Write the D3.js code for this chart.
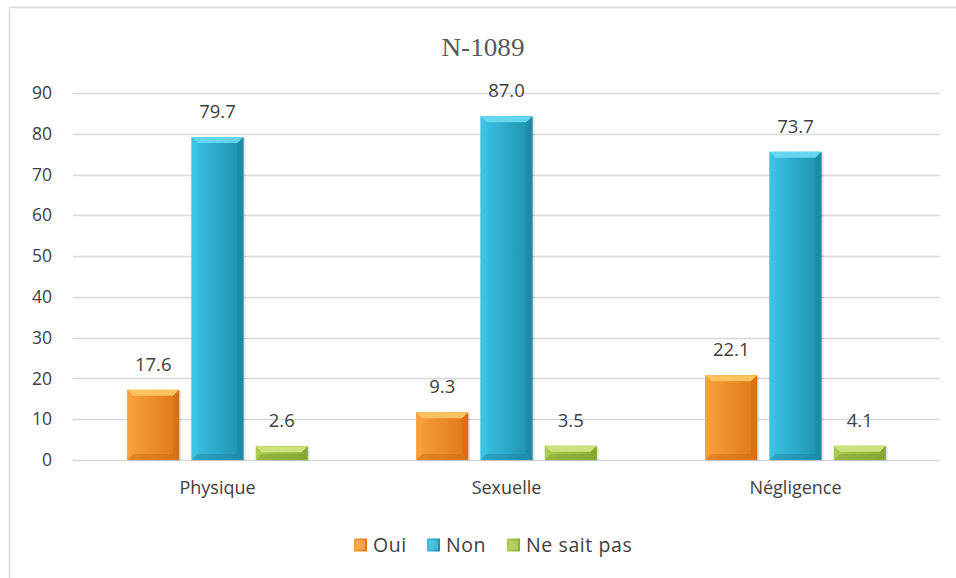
<!DOCTYPE html>
<html>
<head>
<meta charset="utf-8">
<script src="https://cdn.jsdelivr.net/npm/d3@7"></script>
<style>
  body { margin: 0; background: #fff; }
  text { font-family: "Open Sans", "Noto Sans", sans-serif; }
</style>
</head>
<body>
<div id="chart"></div>
<script>
// Chart data
const categories = ['Physique', 'Sexuelle', 'Négligence'];
const seriesNames = ['Oui', 'Non', 'Ne sait pas'];
// bar heights as drawn in the picture
const oui = [17.2, 11.7, 20.8];
const non = [79.2, 84.3, 75.6];
const nsp = [3.4, 3.5, 3.5];
// data labels as printed
const ouiLabels = ['17.6', '9.3', '22.1'];
const nonLabels = ['79.7', '87.0', '73.7'];
const nspLabels = ['2.6', '3.5', '4.1'];
const yTicks = [0, 10, 20, 30, 40, 50, 60, 70, 80, 90];

const seriesValues = [oui, non, nsp];
const seriesLabels = [ouiLabels, nonLabels, nspLabels];

// colours: [left, right, top bevel, side shade]
const palette = [
    { left: '#F7A03E', right: '#E0761A', top: '#FBC35E', shade: '#D06B12' },
    { left: '#3CC3E4', right: '#1E8FAD', top: '#66D6F0', shade: '#1C86A2' },
    { left: '#ADCB52', right: '#8AAE35', top: '#CBE27A', shade: '#80A230' }
];

const W = 956, H = 578;
const margin = { left: 73, right: 16, top: 93, bottom: 118 };
const width = W - margin.left - margin.right;
const height = H - margin.top - margin.bottom;

const root = d3.select('#chart').append('svg')
    .attr('width', W)
    .attr('height', H);

// gradients
const defs = root.append('defs');
palette.forEach((p, i) => {
    const g = defs.append('linearGradient')
        .attr('id', 'grad' + i)
        .attr('x1', '0%').attr('x2', '100%')
        .attr('y1', '0%').attr('y2', '0%');
    g.append('stop').attr('offset', '0%').attr('stop-color', p.left);
    g.append('stop').attr('offset', '100%').attr('stop-color', p.right);
});

// outer frame
root.append('path')
    .attr('d', `M9.5,${H} V7.5 H${W}`)
    .attr('fill', 'none')
    .attr('stroke', '#D9D9D9')
    .attr('stroke-width', 1.5);

// title
root.append('text')
    .attr('x', 483)
    .attr('y', 56)
    .attr('text-anchor', 'middle')
    .attr('textLength', 83)
    .attr('lengthAdjust', 'spacingAndGlyphs')
    .style('font-family', '"Liberation Serif", "DejaVu Serif", serif')
    .style('font-size', '26px')
    .style('fill', '#595959')
    .text('N-1089');

const svg = root.append('g')
    .attr('transform', `translate(${margin.left},${margin.top})`);

const x0 = d3.scaleBand()
    .domain(categories)
    .range([0, width]);

const barW = 52;
const x1 = d3.scaleBand()
    .domain(seriesNames)
    .range([x0.bandwidth() / 2 - 90, x0.bandwidth() / 2 + 90])
    .paddingInner(0.2);

const y = d3.scaleLinear()
    .domain([0, 90])
    .range([height, 0]);

// grid lines
svg.append('g')
    .selectAll('line')
    .data(yTicks)
    .join('line')
    .attr('x1', 0)
    .attr('x2', width)
    .attr('y1', d => Math.round(y(d)) + 0.5)
    .attr('y2', d => Math.round(y(d)) + 0.5)
    .attr('stroke', '#D9D9D9')
    .attr('stroke-width', 1.5);

// y axis labels
const yAxis = svg.append('g')
    .call(d3.axisLeft(y).tickValues(yTicks).tickSize(0).tickPadding(21));
yAxis.select('.domain').remove();
yAxis.selectAll('text')
    .style('font-size', '17.5px')
    .style('fill', '#404040')
    .style('font-family', '"Open Sans", sans-serif');

// x axis labels
const xAxis = svg.append('g')
    .attr('transform', `translate(0,${height})`)
    .call(d3.axisBottom(x0).tickSize(0).tickPadding(21));
xAxis.select('.domain').remove();
xAxis.selectAll('text')
    .style('font-size', '18px')
    .style('fill', '#404040')
    .style('font-family', '"Open Sans", sans-serif');

// bars
const bev = 6;
categories.forEach((cat, ci) => {
    seriesNames.forEach((s, si) => {
        const v = seriesValues[si][ci];
        const bx = x0(cat) + x1(s) + (x1.bandwidth() - barW) / 2;
        const by = y(v);
        const bh = y(0) - by;
        const p = palette[si];
        const g = svg.append('g');

        // soft shadow
        g.append('rect')
            .attr('x', bx + 1)
            .attr('y', by + 1)
            .attr('width', barW + 1)
            .attr('height', bh)
            .attr('fill', '#000')
            .attr('opacity', 0.1);

        g.append('rect')
            .attr('x', bx)
            .attr('y', by)
            .attr('width', barW)
            .attr('height', bh)
            .attr('fill', `url(#grad${si})`);

        const b = Math.min(bev, bh / 2);
        // top bevel
        g.append('polygon')
            .attr('points', [[bx, by], [bx + barW, by], [bx + barW - b, by + b], [bx + b, by + b]].join(' '))
            .attr('fill', p.top);
        // left bevel
        g.append('polygon')
            .attr('points', [[bx, by], [bx + b, by + b], [bx + b, by + bh - b], [bx, by + bh]].join(' '))
            .attr('fill', p.left)
            .attr('opacity', 0.8);
        // right bevel
        g.append('polygon')
            .attr('points', [[bx + barW, by], [bx + barW - b, by + b], [bx + barW - b, by + bh - b], [bx + barW, by + bh]].join(' '))
            .attr('fill', p.shade)
            .attr('opacity', 0.6);
        // bottom bevel
        g.append('polygon')
            .attr('points', [[bx, by + bh], [bx + b, by + bh - b], [bx + barW - b, by + bh - b], [bx + barW, by + bh]].join(' '))
            .attr('fill', p.shade)
            .attr('opacity', 0.5);

        // data label
        svg.append('text')
            .attr('x', bx + barW / 2)
            .attr('y', by - 19)
            .attr('text-anchor', 'middle')
            .style('font-size', '18.5px')
            .style('fill', '#404040')
            .text(seriesLabels[si][ci]);
    });
});

// legend
const legendItems = seriesNames.map((name, i) => ({ name, i }));
const legend = root.append('g')
    .attr('transform', 'translate(0,545)');
const legendX = [354, 427, 507];
legendItems.forEach(d => {
    const lg = legend.append('g')
        .attr('transform', `translate(${legendX[d.i]},0)`);
    lg.append('rect')
        .attr('x', 0)
        .attr('y', -6.5)
        .attr('width', 13)
        .attr('height', 13)
        .attr('fill', `url(#grad${d.i})`);
    lg.append('rect')
        .attr('x', 2)
        .attr('y', -4.5)
        .attr('width', 9)
        .attr('height', 9)
        .attr('fill', palette[d.i].top)
        .attr('opacity', 0.5);
    lg.append('text')
        .attr('x', 19)
        .attr('y', 7)
        .style('font-size', '19.5px')
        .style('letter-spacing', '0.6px')
        .style('fill', '#404040')
        .text(d.name);
});
</script>
</body>
</html>
